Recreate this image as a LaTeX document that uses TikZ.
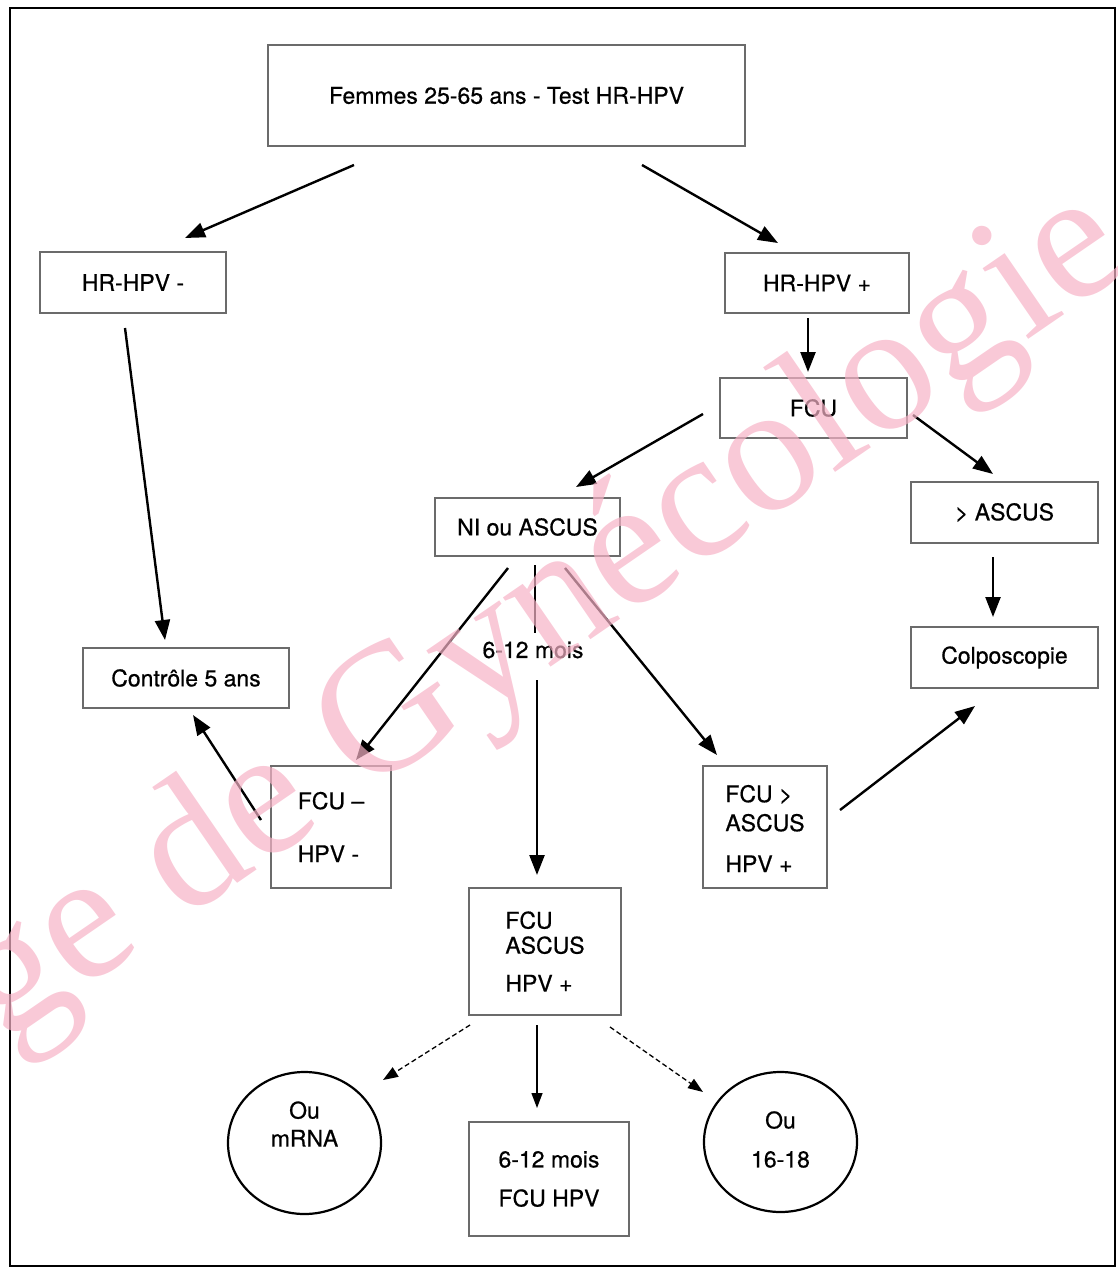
\documentclass[tikz,border=0pt]{standalone}
\usepackage{fontspec}
\setmainfont{TeX Gyre Heros}[FakeBold=0.6]
\newfontfamily\wmfont{Liberation Serif}
\usetikzlibrary{arrows.meta,shapes.geometric}
\definecolor{wmpink}{RGB}{246,178,198}
\begin{document}
\begin{tikzpicture}[x=1pt, y=-1pt,
    every node/.style = {font=\fontsize{23}{29}\selectfont, inner sep=0pt},
    box/.style = {draw=black!58, line width=2.2pt, align=left},
    oval/.style = {draw, ellipse, line width=2.2pt},
    arr/.style = {line width=2.4pt, -{Triangle[length=20pt,width=15pt]}},
    thin arr/.style = {line width=1.3pt, -{Triangle[length=15pt,width=11pt]}},
    dash arr/.style = {thin arr, dashed, dash pattern=on 5pt off 3pt}]
  \useasboundingbox (0,0) rectangle (1118,1271);
  \draw[line width=1.4pt] (10,8) rectangle (1115,1266);
  \node[box, minimum width=477pt, minimum height=101pt] (top) at (506.5,95.5) {Femmes 25-65 ans - Test HR-HPV};
  \node[box, minimum width=186pt, minimum height=61pt] (hrn) at (133,282.5) {HR-HPV -};
  \node[box, minimum width=184pt, minimum height=60pt] (hrp) at (817,283) {HR-HPV +};
  \node[box, minimum width=187pt, minimum height=60pt] (fcu) at (813.5,408) {FCU};
  \node[box, minimum width=185pt, minimum height=58pt] (ni) at (527.5,527) {NI ou ASCUS};
  \node[box, minimum width=187pt, minimum height=61pt] (asc) at (1004.5,512.5) {> ASCUS};
  \node[box, minimum width=187pt, minimum height=61pt] (col) at (1004.5,657.5) {Colposcopie};
  \node[box, minimum width=206pt, minimum height=60pt] (ctl) at (186,678) {Contrôle 5 ans};
  \node[box, minimum width=120pt, minimum height=122pt] (neg) at (331,827) {FCU –\\[24pt]HPV -};
  \node[box, minimum width=124pt, minimum height=122pt] (pos) at (765,827) {\strut FCU >\\ASCUS\\[12pt]HPV +};
  \node[box, minimum width=152pt, minimum height=127pt] (fa) at (545,951.5) {FCU\\[-4pt]ASCUS\\[9pt]HPV +};
  \node[box, minimum width=160pt, minimum height=114pt] (fh) at (549,1179) {6-12 mois\\[10pt]FCU HPV};
  \node[oval, minimum width=153pt, minimum height=142pt] (mrna) at (304.5,1143) {};
  \node[align=center] (mrnatxt) at (304.5,1124) {Ou\\[-1pt]mRNA};
  \node[oval, minimum width=153pt, minimum height=140pt] (hpv) at (780.5,1142) {};
  \node[align=center] (hpvtxt) at (780.5,1139.5) {Ou\\[10pt]16-18};
  \node (delay) at (533,650) {6-12 mois};

  \draw[arr] ([shift={(-152.5,69.5)}]top.center) -- ([shift={(52,-44.5)}]hrn.center);
  \draw[arr] ([shift={(135.5,69.5)}]top.center) -- ([shift={(-39,-40)}]hrp.center);
  \draw[arr] ([shift={(-9,35)}]hrp.center) -- ([shift={(-5.5,-36)}]fcu.center);
  \draw[arr] ([shift={(-110.5,6)}]fcu.center) -- ([shift={(48.5,-40)}]ni.center);
  \draw[arr] ([shift={(99.5,7)}]fcu.center) -- ([shift={(-11.5,-38.5)}]asc.center);
  \draw[arr] ([shift={(-8,45.5)}]hrn.center) -- ([shift={(-21,-38)}]ctl.center);
  \draw[arr] ([shift={(-19.5,41)}]ni.center) -- ([shift={(25,-67)}]neg.center);
  \draw[line width=2.4pt] ([shift={(7.5,38)}]ni.center) -- ([shift={(2,-17)}]delay.center);
  \draw[arr] ([shift={(4,30)}]delay.center) -- ([shift={(-8,-76.5)}]fa.center);
  \draw[arr] ([shift={(37.5,41)}]ni.center) -- ([shift={(-48,-72)}]pos.center);
  \draw[arr] ([shift={(-70,-7)}]neg.center) -- ([shift={(7,37)}]ctl.center);
  \draw[arr] ([shift={(-11.5,44.5)}]asc.center) -- ([shift={(-11.5,-40.5)}]col.center);
  \draw[arr] ([shift={(75,-17)}]pos.center) -- ([shift={(-29.5,48.5)}]col.center);
  \draw[dash arr] ([shift={(-75,73.5)}]fa.center) -- ([shift={(78.5,-63)}]mrna.center);
  \draw[thin arr] ([shift={(-8,73.5)}]fa.center) -- ([shift={(-12,-71)}]fh.center);
  \draw[dash arr] ([shift={(65,75.5)}]fa.center) -- ([shift={(-77.5,-50)}]hpv.center);

  \begin{scope}
    \clip (0,0) rectangle (1118,1271);
    \node[font=\wmfont\fontsize{183}{200}\selectfont, text=wmpink, text opacity=0.7,
      rotate=34.5, anchor=base east] (mark) at (1134,267) {Collège de Gynécologie};
  \end{scope}
\end{tikzpicture}
\end{document}
